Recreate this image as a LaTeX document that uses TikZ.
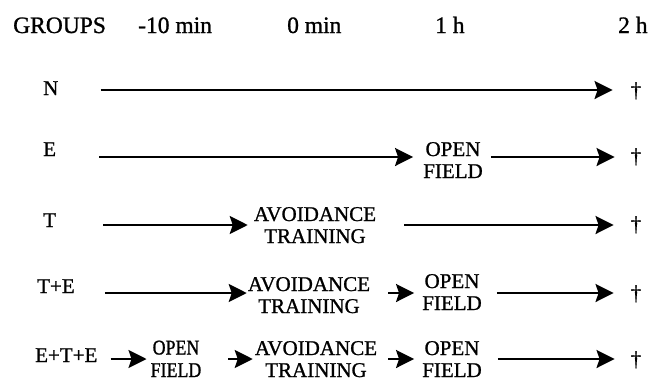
\documentclass[tikz,border=0pt]{standalone}
\usepackage{fontspec}
\setmainfont{Liberation Serif}[FakeBold=1]
\newfontfamily\narrowserif{Liberation Serif}[FakeStretch=0.85,FakeBold=1]
\usetikzlibrary{arrows.meta}
\begin{document}
\begin{tikzpicture}[x=1pt,y=-1pt,
  hdr/.style={inner sep=0pt, anchor=base west, font=\fontsize{23.5}{26}\selectfont},
  grp/.style={inner sep=0pt, anchor=base west, font=\fontsize{21}{22}\selectfont},
  stage/.style={inner sep=0pt, anchor=base, align=center, font=\fontsize{21}{22}\selectfont},
  narrowstage/.style={stage, font=\narrowserif\fontsize{21}{22.5}\selectfont},
  cross/.style={inner sep=0pt, anchor=base, font=\fontsize{21}{22}\selectfont},
  arr/.style={line width=2.2pt, -{Stealth[length=18pt,width=18pt,inset=3pt]}},
  gap/.style 2 args={shorten <=#1pt, shorten >=#2pt}]
\useasboundingbox (0,0) rectangle (659,381);

% time axis header
\node[hdr] (hgrp) at (13,33) {GROUPS};
\node[hdr] (hm10) at (138,33) {-10 min};
\node[hdr] (h0)   at (287,33) {0 min};
\node[hdr] (h1)   at (435,33) {1 h};
\node[hdr] (h2)   at (618,33) {2 h};

% vertical level of each group's time line
\coordinate (yN)   at (0,90);
\coordinate (yE)   at (0,157);
\coordinate (yT)   at (0,225);
\coordinate (yTE)  at (0,293);
\coordinate (yETE) at (0,359);

% group names
\node[grp] (gN)   at (43,95)  {N};
\node[grp] (gE)   at (43,156) {E};
\node[grp] (gT)   at (43,227) {T};
\node[grp] (gTE)  at (37,293) {T+E};
\node[grp] (gETE) at (35,362) {E+T+E};

% procedures (placed by the baseline of their second line)
\node[stage] (eOF)   at (453,178) {OPEN\\FIELD};
\node[stage] (tAT)   at (315,243) {AVOIDANCE\\TRAINING};
\node[stage] (teAT)  at (309,313) {AVOIDANCE\\TRAINING};
\node[stage] (teOF)  at (452,310) {OPEN\\FIELD};
\node[narrowstage] (eteOFa) at (176,377) {OPEN\\FIELD};
\node[stage] (eteAT) at (316,377) {AVOIDANCE\\TRAINING};
\node[stage] (eteOFb) at (452,377) {OPEN\\FIELD};

% sacrifice at 2 h
\node[cross] (dN)   at (636,97)  {†};
\node[cross] (dE)   at (636,163) {†};
\node[cross] (dT)   at (636,231) {†};
\node[cross] (dTE)  at (636,300) {†};
\node[cross] (dETE) at (636,366) {†};

% group N
\draw[arr, gap={42}{18}] (gN.east |- yN) -- (dN.west |- yN);
% group E
\draw[arr, gap={43}{10}] (gE.east |- yE) -- (eOF.west |- yE);
\draw[arr, gap={8}{16}] (eOF.east |- yE) -- (dE.west |- yE);
% group T
\draw[arr, gap={47}{6}] (gT.east |- yT) -- (tAT.west |- yT);
\draw[arr, gap={28}{17}] (tAT.east |- yT) -- (dT.west |- yT);
% group T+E
\draw[arr, gap={30}{1}] (gTE.east |- yTE) -- (teAT.west |- yTE);
\draw[arr, gap={18}{8}] (teAT.east |- yTE) -- (teOF.west |- yTE);
\draw[arr, gap={15}{17}] (teOF.east |- yTE) -- (dTE.west |- yTE);
% group E+T+E
\draw[arr, gap={13}{4}] (gETE.east |- yETE) -- (eteOFa.west |- yETE);
\draw[arr, gap={27}{2}] (eteOFa.east |- yETE) -- (eteAT.west |- yETE);
\draw[arr, gap={11}{8}] (eteAT.east |- yETE) -- (eteOFb.west |- yETE);
\draw[arr, gap={16}{16}] (eteOFb.east |- yETE) -- (dETE.west |- yETE);
\end{tikzpicture}
\end{document}
